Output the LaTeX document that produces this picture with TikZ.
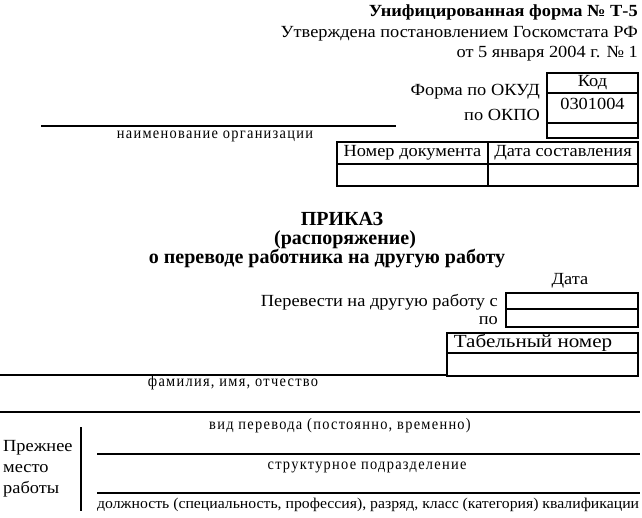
\documentclass[tikz,border=0pt]{standalone}
\usepackage{fontspec}
\setmainfont{Liberation Serif}[FakeStretch=1.08]
\newfontfamily\capfont{Liberation Serif}[FakeStretch=0.9,LetterSpace=8]
\newfontfamily\dolfont{Liberation Serif}[FakeStretch=1.05]
\newfontfamily\ttlfont{Liberation Serif}
\newfontfamily\tabfont{Liberation Serif}[FakeStretch=1.14]
\begin{document}
\begin{tikzpicture}[x=1pt,y=-1pt,
  txt/.style={inner sep=0pt,font=\fontsize{17}{20}\selectfont},
  captxt/.style={inner sep=0pt,font=\capfont\fontsize{16}{18}\selectfont},
  doltxt/.style={inner sep=0pt,font=\dolfont\fontsize{15}{17}\selectfont},
  ttl/.style={inner sep=0pt,font=\ttlfont\bfseries\fontsize{20}{22}\selectfont},
  boxline/.style={line width=1.8pt},
  rule/.style={line width=1.5pt}]
\useasboundingbox (0,0) rectangle (642,517);
% header
\node[txt,anchor=base east,font=\bfseries\fontsize{17}{20}\selectfont] (h1) at (638,16) {Унифицированная форма № Т-5};
\node[txt,anchor=base east] (h2) at (638,37) {Утверждена постановлением Госкомстата РФ};
\node[txt,anchor=base east] (h3) at (638,57) {от 5 января 2004 г. № 1};
% codes
\node[txt,anchor=base east] (okud) at (540,95) {Форма по ОКУД};
\node[txt,anchor=base east] (okpo) at (540,120) {по ОКПО};
\draw[boxline] (547,73) rectangle (638,138);
\draw[boxline] (547,93) -- (638,93) (547,123) -- (638,123);
\node[txt] (kod) at (592.5,83) {Код};
\node[txt] (kodv) at (592.5,104) {0301004};
% organisation
\coordinate (orgL) at (41,126);
\coordinate (orgR) at (396,126);
\draw[rule] (orgL) -- (orgR);
\node[captxt] (org) at (215,136) {наименование организации};
% doc table
\draw[boxline] (337,142) rectangle (638,186);
\draw[boxline] (337,164) -- (638,164) (488,142) -- (488,186);
\node[txt] (nd) at (412.5,153) {Номер документа};
\node[txt] (ds) at (563,153) {Дата составления};
% title
\node[ttl,anchor=base,text depth=0pt] (t1) at (342,225) {ПРИКАЗ};
\node[ttl,anchor=base,text height=12pt] (t2) at (345,244) {(распоряжение)};
\node[ttl,anchor=base] (t3) at (327,263) {о переводе работника на другую работу};
% dates
\node[txt] (data) at (570,281) {Дата};
\node[txt,anchor=east] (perev) at (498,302) {Перевести на другую работу с};
\node[txt,anchor=east] (po) at (498,321) {по};
\draw[boxline] (506,293) rectangle (638,327);
\draw[boxline] (506,309) -- (638,309);
% tab number
\draw[boxline] (447,333) rectangle (638,376);
\draw[boxline] (447,353) -- (638,353);
\node[txt,font=\tabfont\fontsize{18.5}{20}\selectfont] (tab) at (533,343) {Табельный номер};
% fio
\coordinate (fioL) at (0,375);
\coordinate (fioR) at (447,375);
\draw[rule] (fioL) -- (fioR);
\node[captxt] (fio) at (233,383) {фамилия, имя, отчество};
% transfer
\coordinate (vL) at (0,412);
\coordinate (vR) at (640,412);
\draw[rule] (vL) -- (vR);
\node[captxt] (vid) at (340,426) {вид перевода (постоянно, временно)};
% previous job
\node[txt,anchor=west] (pr1) at (3,448) {Прежнее};
\node[txt,anchor=west] (pr2) at (3,469) {место};
\node[txt,anchor=west] (pr3) at (3,489) {работы};
\coordinate (vtop) at (81,427);
\coordinate (vbot) at (81,511);
\draw[rule] (vtop) -- (vbot);
\coordinate (s1L) at (97,454);
\coordinate (s1R) at (640,454);
\draw[rule] (s1L) -- (s1R);
\node[captxt] (str) at (367,467) {структурное подразделение};
\coordinate (s2L) at (97,493);
\coordinate (s2R) at (640,493);
\draw[rule] (s2L) -- (s2R);
\node[doltxt,anchor=west] (dol) at (97,505) {должность (специальность, профессия), разряд, класс (категория) квалификации};
\end{tikzpicture}
\end{document}
